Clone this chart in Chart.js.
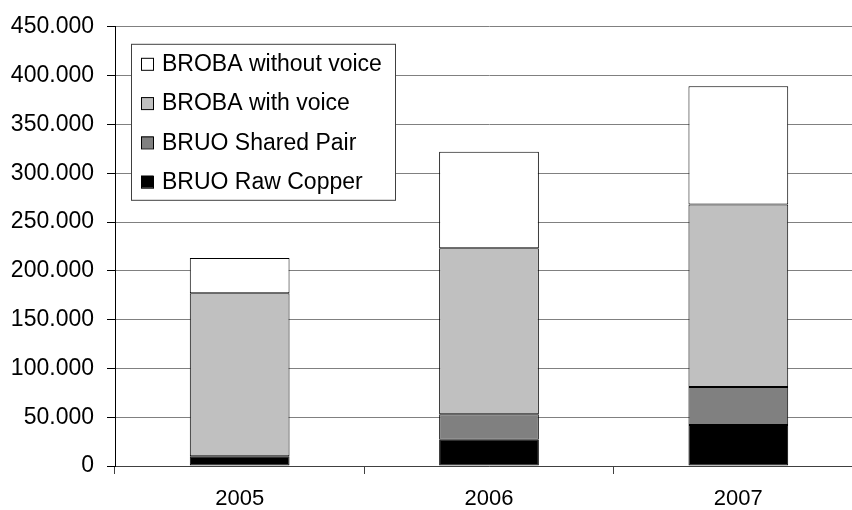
<!DOCTYPE html>
<html>
<head>
<meta charset="utf-8">
<script src="https://cdn.jsdelivr.net/npm/chart.js@4.4.0/dist/chart.umd.min.js"></script>
<style>
  html, body { margin: 0; padding: 0; background: #fff; overflow: hidden; }
  #wrap { width: 880px; height: 510px; position: relative; }
</style>
</head>
<body>
<div id="wrap"><canvas id="c"></canvas></div>
<script>
// Line counts per year, stacked from the bottom up
const years = ['2005', '2006', '2007'];
const rawCopper = [10000, 27000, 42000];
const sharedPair = [0, 26000, 39000];
const withVoice = [167000, 170000, 187000];
const withoutVoice = [36000, 99000, 121000];
const yTicks = [0, 50000, 100000, 150000, 200000, 250000, 300000, 350000, 400000, 450000];

const FONT = '"Liberation Sans", Arial, sans-serif';

function fmt(v) {
  // thousands separated by dots, e.g. 450.000
  return String(v).replace(/\B(?=(\d{3})+(?!\d))/g, '.');
}

// Boxed legend drawn inside the plot area, top series first
const boxLegend = {
  id: 'boxLegend',
  afterDraw(chart) {
    const ctx = chart.ctx;
    const a = chart.chartArea;
    const x0 = a.left + 16, y0 = a.top + 17, w = 264, h = 156;
    ctx.save();
    ctx.fillStyle = '#fff';
    ctx.fillRect(x0, y0, w, h);
    ctx.strokeStyle = '#404040';
    ctx.lineWidth = 1;
    ctx.strokeRect(x0 + 0.5, y0 + 0.5, w, h);
    const items = chart.data.datasets.slice().reverse();
    ctx.font = '23px ' + FONT;
    ctx.textBaseline = 'middle';
    items.forEach((ds, i) => {
      const cy = y0 + 20 + i * 39.3;
      ctx.fillStyle = ds.backgroundColor;
      ctx.fillRect(x0 + 10, cy - 6, 12, 12);
      ctx.strokeStyle = '#000';
      ctx.strokeRect(x0 + 10.5, cy - 5.5, 12, 12);
      ctx.fillStyle = '#000';
      ctx.fillText(ds.label, x0 + 31, cy + 1);
    });
    ctx.restore();
  }
};

const mk = (label, data, color) => ({
  label, data,
  backgroundColor: color,
  borderColor: '#000',
  borderWidth: 1,
  borderSkipped: false,
  barPercentage: 0.4,
  categoryPercentage: 1.0
});

new Chart(document.getElementById('c'), {
  type: 'bar',
  data: {
    labels: years,
    datasets: [
      mk('BRUO Raw Copper', rawCopper, '#000000'),
      mk('BRUO Shared Pair', sharedPair, '#808080'),
      mk('BROBA with voice', withVoice, '#c0c0c0'),
      mk('BROBA without voice', withoutVoice, '#ffffff')
    ]
  },
  options: {
    responsive: true,
    maintainAspectRatio: false,
    animation: false,
    layout: { padding: { left: 0, right: 17, top: 23, bottom: 0 } },
    plugins: { legend: { display: false }, tooltip: { enabled: false } },
    scales: {
      x: {
        stacked: true,
        offset: true,
        grid: { offset: true, drawOnChartArea: false, tickLength: 8, tickColor: '#404040', color: '#404040' },
        border: { color: '#404040', width: 1 },
        ticks: { color: '#000', font: { family: FONT, size: 22 }, padding: 12 },
        afterFit(s) { s.height = 44; }
      },
      y: {
        stacked: true,
        min: 0,
        max: 450000,
        afterBuildTicks(s) { s.ticks = yTicks.map(v => ({ value: v })); },
        grid: { color: '#808080', lineWidth: 1, tickLength: 8, tickColor: '#000' },
        border: { color: '#000', width: 1 },
        ticks: { color: '#000', font: { family: FONT, size: 23 }, padding: 13, callback: v => fmt(v) },
        afterFit(s) { s.width = 115; }
      }
    }
  },
  plugins: [boxLegend]
});
</script>
</body>
</html>
